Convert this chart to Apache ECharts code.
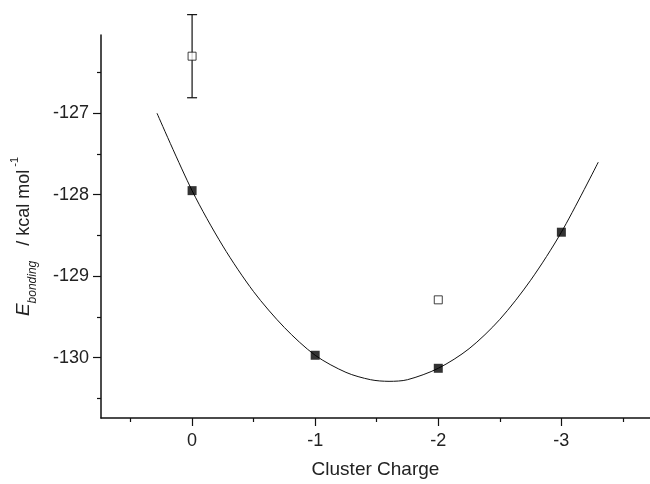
<!DOCTYPE html>
<html>
<head>
<meta charset="utf-8">
<title>Cluster Charge</title>
<script src="https://cdn.jsdelivr.net/npm/echarts@6/dist/echarts.min.js"></script>
<style>
  html, body { margin: 0; padding: 0; background: #fff; }
  #main { width: 650px; height: 484px; }
</style>
</head>
<body>
<div id="main"></div>
<script>
// cluster charge ticks
var chargeTicks = [0, -1, -2, -3];
var chargeMinor = [0.5, -0.5, -1.5, -2.5, -3.5];
var energyTicks = [-127, -128, -129, -130];
var energyMinor = [-126.5, -127.5, -128.5, -129.5, -130.5];

// filled squares
var calcCharge = [0, -1, -2, -3];
var calcEnergy = [-127.95, -129.97, -130.13, -128.46];

// open squares
var openCharge = [0, -2];
var openEnergy = [-126.3, -129.29];

// error bar on the open square at 0
var errCharge = [0];
var errEnergy = [-126.3];
var errSize = [0.51];

// fitted curve
var curveCharge = [0.285, 0, -0.25, -0.5, -0.75, -1, -1.25, -1.45, -1.6, -1.75, -2, -2.25, -2.5, -2.75, -3, -3.3];
var curveEnergy = [-127.0, -127.95, -128.63, -129.19, -129.63, -129.97, -130.18, -130.27, -130.29, -130.27, -130.13, -129.89, -129.53, -129.05, -128.46, -127.6];

var font = '"Liberation Sans", Arial, Helvetica, sans-serif';

function zip(a, b) {
  var out = [];
  for (var i = 0; i < a.length; i++) out.push([a[i], b[i]]);
  return out;
}

var chart = echarts.init(document.getElementById('main'));

var xMin = -3.72, xMax = 0.74;
var yMin = -130.74, yMax = -126.04;

var option = {
  animation: false,
  backgroundColor: '#fff',
  grid: { left: 101, right: 0, top: 35, bottom: 66 },
  xAxis: [
    {
      type: 'value',
      inverse: true,
      min: xMin,
      max: xMax,
      position: 'bottom',
      name: 'Cluster Charge',
      nameLocation: 'middle',
      nameGap: 42,
      nameTextStyle: { fontFamily: font, fontSize: 19, color: '#222' },
      axisLine: { onZero: false, lineStyle: { color: '#111', width: 1.5 } },
      axisTick: { length: 8, customValues: chargeTicks, lineStyle: { color: '#111', width: 1.2 } },
      axisLabel: { customValues: chargeTicks, margin: 14, fontFamily: font, fontSize: 18, color: '#222' },
      splitLine: { show: false }
    },
    {
      // minor ticks only
      type: 'value',
      inverse: true,
      min: xMin,
      max: xMax,
      position: 'bottom',
      axisLine: { show: false, onZero: false },
      axisTick: { length: 4, customValues: chargeMinor, lineStyle: { color: '#111', width: 1.2 } },
      axisLabel: { show: false },
      splitLine: { show: false }
    }
  ],
  yAxis: [
    {
      type: 'value',
      min: yMin,
      max: yMax,
      position: 'left',
      name: '{e|E}{sub|bonding}{t|   / kcal mol}{sup| -1}',
      nameLocation: 'middle',
      nameRotate: 90,
      nameGap: 62,
      nameTextStyle: {
        fontFamily: font,
        color: '#222',
        padding: [0, 20, 0, 0],
        rich: {
          e: { fontFamily: font, fontStyle: 'italic', fontSize: 19, lineHeight: 30, color: '#222' },
          sub: { fontFamily: font, fontStyle: 'italic', fontSize: 12, lineHeight: 12, verticalAlign: 'bottom', color: '#222' },
          t: { fontFamily: font, fontSize: 18, lineHeight: 30, color: '#222' },
          sup: { fontFamily: font, fontSize: 11, lineHeight: 20, verticalAlign: 'top', color: '#222' }
        }
      },
      axisLine: { show: true, onZero: false, lineStyle: { color: '#111', width: 1.5 } },
      axisTick: { show: true, length: 8, customValues: energyTicks, lineStyle: { color: '#111', width: 1.2 } },
      axisLabel: { customValues: energyTicks, margin: 12, fontFamily: font, fontSize: 18, color: '#222' },
      splitLine: { show: false }
    },
    {
      type: 'value',
      min: yMin,
      max: yMax,
      position: 'left',
      axisLine: { show: false, onZero: false },
      axisTick: { show: true, length: 4, customValues: energyMinor, lineStyle: { color: '#111', width: 1.2 } },
      axisLabel: { show: false },
      splitLine: { show: false }
    }
  ],
  series: [
    {
      name: 'fit',
      type: 'line',
      data: zip(curveCharge, curveEnergy),
      smooth: 0.3,
      showSymbol: false,
      lineStyle: { color: '#111', width: 1 },
      z: 2
    },
    {
      name: 'error',
      type: 'custom',
      data: errCharge.map(function (c, i) { return [c, errEnergy[i], errSize[i]]; }),
      renderItem: function (params, api) {
        var x = api.value(0), y = api.value(1), e = api.value(2);
        var hi = api.coord([x, y + e]);
        var lo = api.coord([x, y - e]);
        var w = 5;
        var st = { stroke: '#111', lineWidth: 1.2 };
        return {
          type: 'group',
          children: [
            { type: 'line', shape: { x1: hi[0], y1: hi[1], x2: lo[0], y2: lo[1] }, style: st },
            { type: 'line', shape: { x1: hi[0] - w, y1: hi[1], x2: hi[0] + w, y2: hi[1] }, style: st },
            { type: 'line', shape: { x1: lo[0] - w, y1: lo[1], x2: lo[0] + w, y2: lo[1] }, style: st }
          ]
        };
      },
      z: 3
    },
    {
      name: 'open',
      type: 'scatter',
      data: zip(openCharge, openEnergy),
      symbol: 'rect',
      symbolSize: 8,
      itemStyle: { color: '#fff', borderColor: '#111', borderWidth: 1 },
      z: 4
    },
    {
      name: 'calc',
      type: 'scatter',
      data: zip(calcCharge, calcEnergy),
      symbol: 'rect',
      symbolSize: 9,
      itemStyle: { color: '#000' },
      z: 5
    }
  ]
};

chart.setOption(option);
</script>
</body>
</html>
